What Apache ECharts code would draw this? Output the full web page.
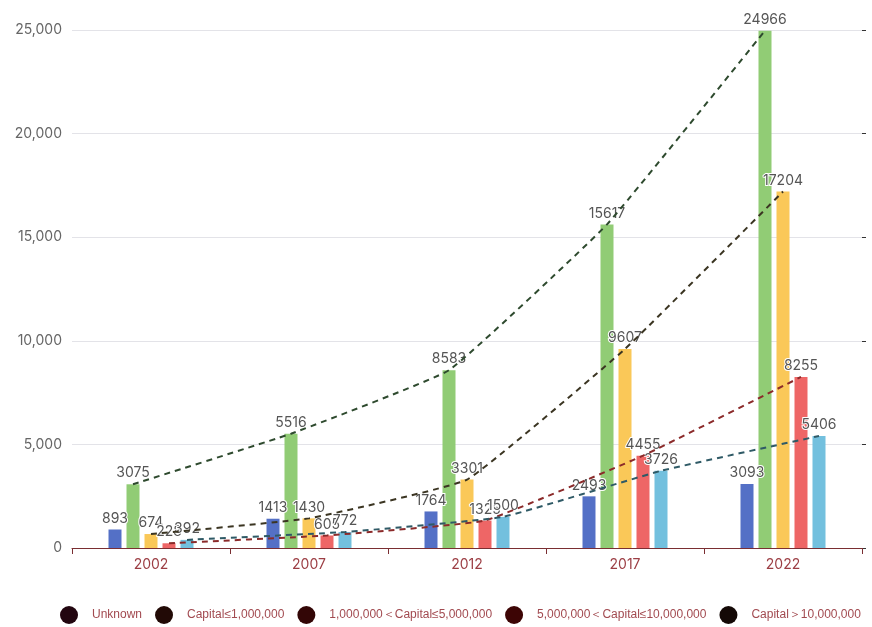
<!DOCTYPE html>
<html>
<head>
<meta charset="utf-8">
<script src="https://cdn.jsdelivr.net/npm/echarts@6/dist/echarts.min.js"></script>
<style>
html,body{margin:0;padding:0;background:#fff;}
#main{width:872px;height:627px;}
</style>
</head>
<body>
<div id="main"></div>
<script>
var years = ['2002', '2007', '2012', '2017', '2022'];
var seriesNames = ['Unknown', 'Capital≤1,000,000', '1,000,000＜Capital≤5,000,000', '5,000,000＜Capital≤10,000,000', 'Capital＞10,000,000'];
var unknownVals = [893, 1413, 1764, 2493, 3093];
var cap1mVals = [3075, 5516, 8583, 15617, 24966];
var cap5mVals = [674, 1430, 3301, 9607, 17204];
var cap10mVals = [228, 605, 1325, 4455, 8255];
var capOver10mVals = [392, 772, 1500, 3726, 5406];
var yTicks = [0, 5000, 10000, 15000, 20000, 25000];

var allVals = [unknownVals, cap1mVals, cap5mVals, cap10mVals, capOver10mVals];
var barColors = ['#5470c6', '#91cc75', '#fac858', '#ee6666', '#73c0de'];
var lineColors = ['#2a2f55', '#2e4a2e', '#3b3522', '#8b2a2a', '#2f5a66'];
var legendIconColors = ['#220610', '#220a06', '#330606', '#3d0505', '#140906'];

var gridLeft = 72, gridRight = 10, chartW = 872;
var gridWidth = chartW - gridLeft - gridRight;
var catW = gridWidth / years.length;
var barW = 13, gapPx = 5;

var series = [];
allVals.forEach(function (vals, k) {
  series.push({
    name: seriesNames[k],
    type: 'bar',
    barWidth: barW,
    barGap: (gapPx / barW * 100) + '%',
    data: vals,
    itemStyle: { color: barColors[k] },
    label: {
      show: true, position: 'top', color: '#555', fontSize: 14,
      textBorderColor: '#fff', textBorderWidth: 2, distance: 4
    },
    z: 2
  });
});
allVals.forEach(function (vals, k) {
  if (k === 0) return;
  var off = (k - 2) * (barW + gapPx) / catW;
  series.push({
    name: seriesNames[k],
    type: 'line',
    xAxisIndex: 1,
    data: vals.map(function (v, i) { return [i + 0.5 + off, v]; }),
    symbol: 'none',
    smooth: 0.1,
    lineStyle: { color: lineColors[k], width: 2, type: [6, 5] },
    z: 3,
    silent: true
  });
});

var chart = echarts.init(document.getElementById('main'), null, { renderer: 'canvas' });
chart.setOption({
  animation: false,
  textStyle: { fontFamily: 'Inter, Liberation Sans, Arial, sans-serif' },
  grid: { left: gridLeft, right: gridRight, top: 30, bottom: 79 },
  legend: {
    bottom: 3, left: 60, width: 812, padding: 0,
    icon: 'circle', itemWidth: 18, itemHeight: 18, itemGap: 13,
    textStyle: { color: '#a24a50', fontSize: 12, padding: [0, 0, 0, 9], fontFamily: 'Liberation Sans, Arial, sans-serif' },
    data: seriesNames.map(function (n, k) {
      return { name: n, itemStyle: { color: legendIconColors[k] } };
    })
  },
  xAxis: [{
    type: 'category', data: years,
    axisLine: { lineStyle: { color: '#7a2e32', width: 1 } },
    axisTick: { show: true, lineStyle: { color: '#7a2e32' }, length: 6 },
    axisLabel: { color: '#9c3e44', fontSize: 14, margin: 10 }
  }, {
    type: 'value', min: 0, max: years.length, show: false
  }],
  yAxis: [{
    type: 'value', min: yTicks[0], max: yTicks[yTicks.length - 1], interval: yTicks[1] - yTicks[0],
    axisLabel: { color: '#666', fontSize: 14, margin: 10 },
    splitLine: { lineStyle: { color: '#e3e3e8' } },
    axisLine: { show: false }, axisTick: { show: false }
  }, {
    type: 'value', position: 'right', min: yTicks[0], max: yTicks[yTicks.length - 1], interval: yTicks[1] - yTicks[0],
    axisLabel: { show: false }, splitLine: { show: false },
    axisLine: { show: false },
    axisTick: { show: true, length: 4, inside: false, lineStyle: { color: '#333' } }
  }],
  series: series
});
</script>
</body>
</html>
